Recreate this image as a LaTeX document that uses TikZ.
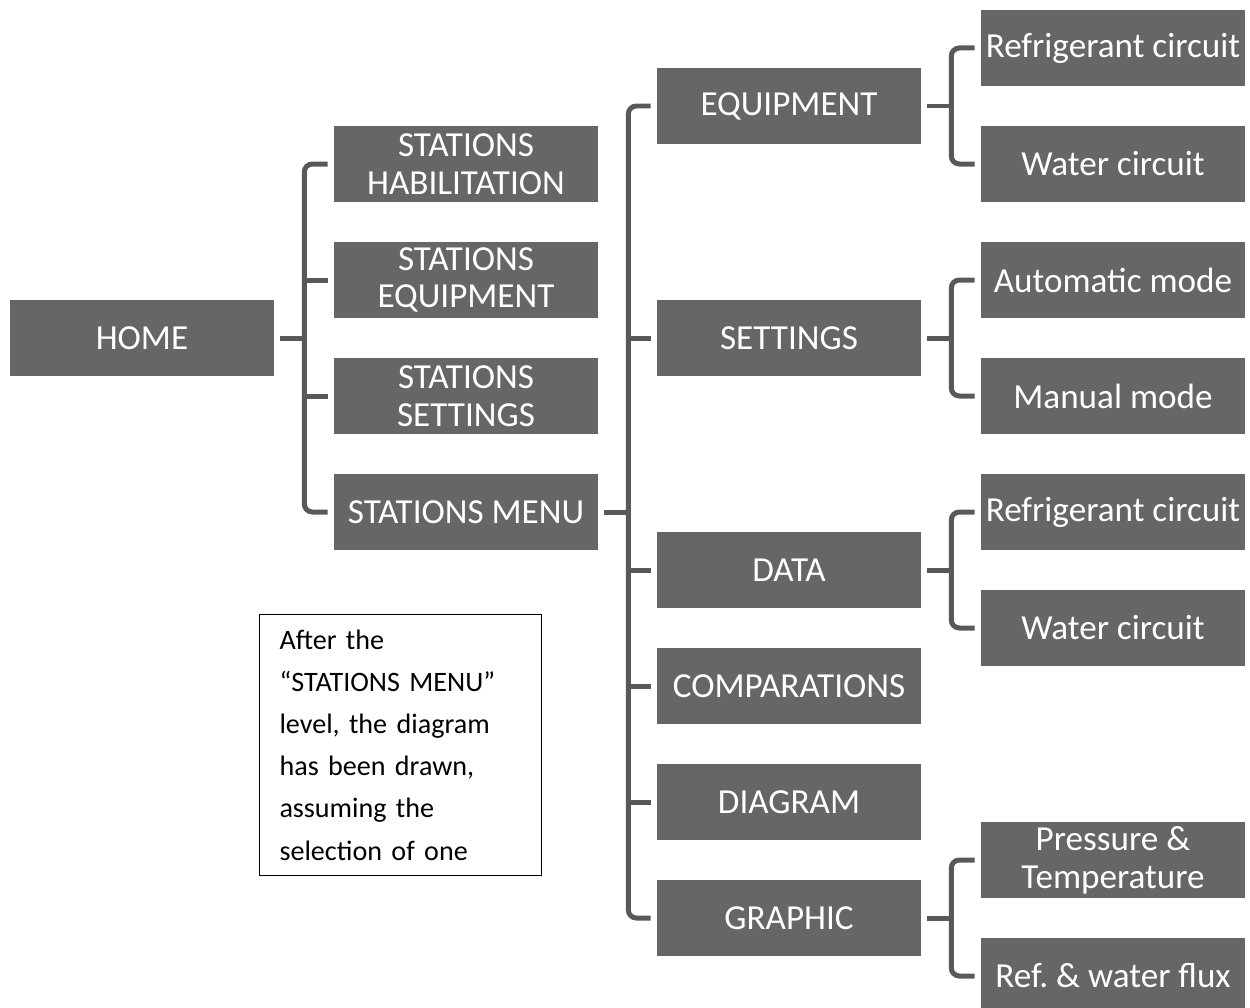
\documentclass[tikz,border=0pt]{standalone}
\usepackage{fontspec}
\setmainfont{Carlito}
\frenchspacing

\definecolor{boxgray}{HTML}{666666}
\definecolor{linkgray}{HTML}{595959}

\tikzset{
  menubox/.style={fill=boxgray, text=white, minimum width=5.28cm, minimum height=1.52cm,
    inner sep=0pt, align=center, font=\fontsize{20}{21.5}\selectfont},
  link/.style={draw=linkgray, line width=0.1cm, rounded corners=0.16cm},
  notebox/.style={draw=black, line width=0.6pt, text width=4.84cm, inner xsep=0.4cm,
    inner ysep=0pt, minimum height=5.22cm, align=left, font=\fontsize{16}{24}\selectfont},
}

\begin{document}
\begin{tikzpicture}[x=0.02cm,y=-0.02cm]
\useasboundingbox (0,0) rectangle (1250,1007);

% level 0
\node[menubox] (home) at (142,338) {HOME};

% level 1
\node[menubox] (sthab) at (466,164) {STATIONS\\HABILITATION};
\node[menubox] (steq) at (466,280) {STATIONS\\EQUIPMENT};
\node[menubox] (stset) at (466,396) {STATIONS\\SETTINGS};
\node[menubox] (stmenu) at (466,512) {STATIONS MENU};

% level 2
\node[menubox] (equip) at (789,106) {EQUIPMENT};
\node[menubox] (settings) at (789,338) {SETTINGS};
\node[menubox] (data) at (789,570) {DATA};
\node[menubox] (comp) at (789,686) {COMPARATIONS};
\node[menubox] (diag) at (789,802) {DIAGRAM};
\node[menubox] (graphic) at (789,918) {GRAPHIC};

% level 3
\node[menubox] (refr1) at (1113,48) {Refrigerant circuit};
\node[menubox] (water1) at (1113,164) {Water circuit};
\node[menubox] (auto) at (1113,280) {Automatic mode};
\node[menubox] (manual) at (1113,396) {Manual mode};
\node[menubox] (refr2) at (1113,512) {Refrigerant circuit};
\node[menubox] (water2) at (1113,628) {Water circuit};
\node[menubox] (press) at (1113,860) {Pressure \&\\Temperature};
\node[menubox] (flux) at (1113,976) {Ref. \& water flux};

% bars
\coordinate (bar1) at ([xshift=0.6cm]home.east);
\coordinate (bar2) at ([xshift=0.6cm]stmenu.east);
\coordinate (bar3) at ([xshift=0.6cm]equip.east);

% home -> stations
\draw[link] ([xshift=0.12cm]home.east) -- (bar1);
\draw[link] ([xshift=-0.12cm]sthab.west) -| (bar1 |- stmenu.west) -- ([xshift=-0.12cm]stmenu.west);
\draw[link] ([xshift=-0.12cm]steq.west) -- (bar1 |- steq.west);
\draw[link] ([xshift=-0.12cm]stset.west) -- (bar1 |- stset.west);

% stations menu -> level 2
\draw[link] ([xshift=0.12cm]stmenu.east) -- (bar2);
\draw[link] ([xshift=-0.12cm]equip.west) -| (bar2 |- graphic.west) -- ([xshift=-0.12cm]graphic.west);
\draw[link] ([xshift=-0.12cm]settings.west) -- (bar2 |- settings.west);
\draw[link] ([xshift=-0.12cm]data.west) -- (bar2 |- data.west);
\draw[link] ([xshift=-0.12cm]comp.west) -- (bar2 |- comp.west);
\draw[link] ([xshift=-0.12cm]diag.west) -- (bar2 |- diag.west);

% level 2 -> level 3
\draw[link] ([xshift=0.12cm]equip.east) -- (bar3);
\draw[link] ([xshift=-0.12cm]refr1.west) -| (bar3 |- water1.west) -- ([xshift=-0.12cm]water1.west);
\draw[link] ([xshift=0.12cm]settings.east) -- (bar3 |- settings.east);
\draw[link] ([xshift=-0.12cm]auto.west) -| (bar3 |- manual.west) -- ([xshift=-0.12cm]manual.west);
\draw[link] ([xshift=0.12cm]data.east) -- (bar3 |- data.east);
\draw[link] ([xshift=-0.12cm]refr2.west) -| (bar3 |- water2.west) -- ([xshift=-0.12cm]water2.west);
\draw[link] ([xshift=0.12cm]graphic.east) -- (bar3 |- graphic.east);
\draw[link] ([xshift=-0.12cm]press.west) -| (bar3 |- flux.west) -- ([xshift=-0.12cm]flux.west);

% note
\node[notebox, anchor=north west] (note) at (259,614) {After the\\“STATIONS MENU”\\level, the diagram\\has been drawn,\\assuming the\\selection of one};
\end{tikzpicture}
\end{document}
